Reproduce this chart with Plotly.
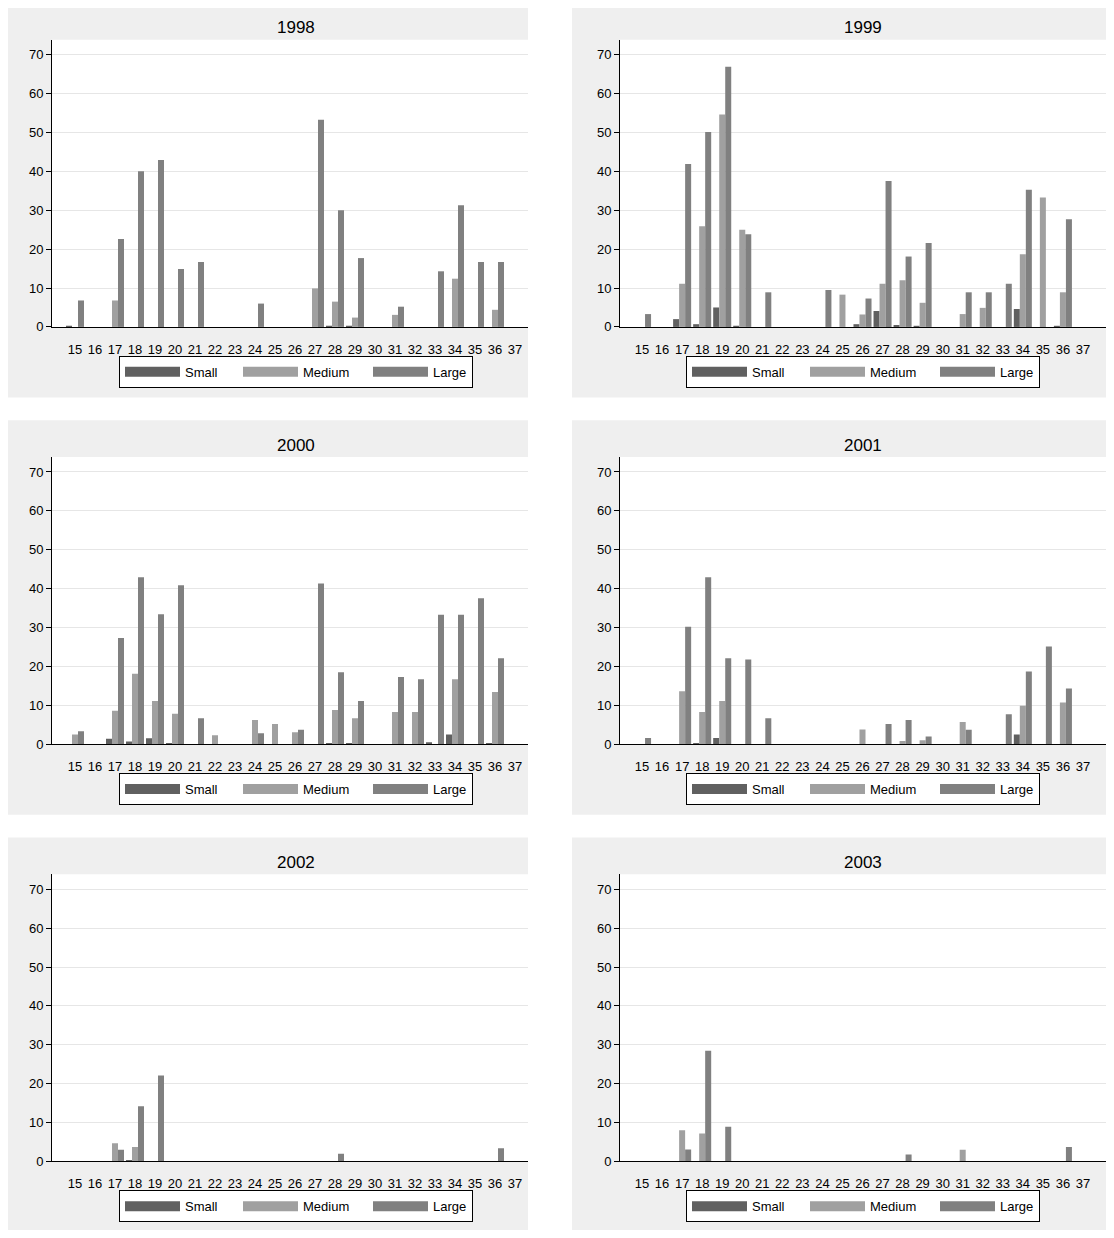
import plotly.graph_objects as go

# ---------------- data ----------------
categories = list(range(15, 38))  # 15 .. 37
years = ["1998", "1999", "2000", "2001", "2002", "2003"]
series_names = ["Small", "Medium", "Large"]

small_1998 = [0.3,0,0,0,0,0,0,0,0,0,0,0,0,0.3,0.3,0,0,0,0,0,0,0,0]
medium_1998 = [0,0,6.8,0,0,0,0,0,0,0,0,0,9.9,6.5,2.4,0,3.1,0,0,12.4,0,4.4,0]
large_1998 = [6.8,0,22.6,40.0,42.9,14.9,16.7,0,0,6.0,0,0,53.3,30.0,17.7,0,5.2,0,14.3,31.3,16.7,16.7,0]

small_1999 = [0,0,2.0,0.7,5.0,0.3,0,0,0,0,0,0.7,4.1,0.5,0.25,0,0,0,0,4.6,0,0.25,0]
medium_1999 = [0,0,11.1,25.9,54.6,25.0,0,0,0,0,8.3,3.2,11.1,12.0,6.2,0,3.3,4.9,0,18.7,33.3,8.9,0]
large_1999 = [3.3,0,41.9,50.1,66.9,23.8,8.9,0,0,9.5,0,7.3,37.5,18.1,21.6,0,8.9,8.9,11.1,35.3,0,27.7,0]

small_2000 = [0,0,1.4,0.7,1.5,0.3,0,0,0,0,0,0,0,0.25,0.25,0,0,0,0.5,2.5,0,0.25,0]
medium_2000 = [2.5,0,8.6,18.1,11.1,7.8,0,2.3,0,6.2,5.2,3.1,0,8.8,6.7,0,8.3,8.3,0,16.7,0,13.4,0]
large_2000 = [3.3,0,27.3,42.9,33.4,40.9,6.7,0,0,2.8,0,3.7,41.3,18.5,11.1,0,17.3,16.7,33.3,33.3,37.5,22.1,0]

small_2001 = [0,0,0,0.3,1.6,0,0,0,0,0,0,0,0,0,0,0,0,0,0,2.5,0,0,0]
medium_2001 = [0,0,13.6,8.3,11.1,0,0,0,0,0,0,3.8,0,0.85,1.0,0,5.7,0,0,9.9,0,10.7,0]
large_2001 = [1.6,0,30.2,42.9,22.1,21.8,6.7,0,0,0,0,0,5.2,6.2,2.0,0,3.7,0,7.7,18.7,25.1,14.3,0]

small_2002 = [0,0,0,0.4,0,0,0,0,0,0,0,0,0,0,0,0,0,0,0,0,0,0,0]
medium_2002 = [0,0,4.7,3.7,0,0,0,0,0,0,0,0,0,0,0,0,0,0,0,0,0,0,0]
large_2002 = [0,0,3.0,14.2,22.1,0,0,0,0,0,0,0,0,2.0,0,0,0,0,0,0,0,3.4,0]

small_2003 = [0,0,0,0,0,0,0,0,0,0,0,0,0,0,0,0,0,0,0,0,0,0,0]
medium_2003 = [0,0,8.0,7.2,0,0,0,0,0,0,0,0,0,0,0,0,3.0,0,0,0,0,0,0]
large_2003 = [0,0,3.1,28.5,8.9,0,0,0,0,0,0,0,0,1.8,0,0,0,0,0,0,0,3.7,0]

y_ticks = [0, 10, 20, 30, 40, 50, 60, 70]

panel_data = {
    "1998": (small_1998, medium_1998, large_1998),
    "1999": (small_1999, medium_1999, large_1999),
    "2000": (small_2000, medium_2000, large_2000),
    "2001": (small_2001, medium_2001, large_2001),
    "2002": (small_2002, medium_2002, large_2002),
    "2003": (small_2003, medium_2003, large_2003),
}

# ---------------- style / layout ----------------
PAGE_MARGIN = 8            # default body margin of the html page
W, H = 1114 - PAGE_MARGIN, 1238 - PAGE_MARGIN
colors = ["#606060", "#a0a0a0", "#808080"]
legend_widths = [48, 60, None]
FONT = "Arial, Liberation Sans, sans-serif"

cols = [
    dict(px0=5, px1=528, x0=52, x1=528, cx=296, xr=[13.85, 37.65]),
    dict(px0=572, px1=1114, x0=620, x1=1107, cx=863, xr=[13.9, 38.2]),
]

def py(v):
    return min(max(1 - (v - PAGE_MARGIN) / H, 0), 1)

def pxx(v):
    return min(max((v - PAGE_MARGIN) / W, 0), 1)

fig = go.Figure()
shapes, annotations = [], []
layout = dict()

for i, yr in enumerate(years):
    r, c = divmod(i, 2)
    col = cols[c]
    off = 420 * r
    n = i + 1
    xa = "x" if n == 1 else f"x{n}"
    ya = "y" if n == 1 else f"y{n}"
    lg = "legend" if n == 1 else f"legend{n}"
    vals = panel_data[yr]
    for name, v, colr in zip(series_names, vals, colors):
        fig.add_trace(go.Bar(x=categories, y=v, name=name, marker=dict(color=colr, line=dict(width=0)),
                             xaxis=xa, yaxis=ya, showlegend=False))
    for name, colr, lw in zip(series_names, colors, legend_widths):
        kw = dict(legendwidth=lw) if lw else {}
        fig.add_trace(go.Scatter(x=[None], y=[None], mode="lines", name=name,
                                 line=dict(color=colr, width=14), xaxis=xa, yaxis=ya,
                                 legend=lg, showlegend=True, hoverinfo="skip", **kw))

    top, bot = 40 + off, 329 + off
    xkey = "xaxis" if n == 1 else f"xaxis{n}"
    ykey = "yaxis" if n == 1 else f"yaxis{n}"
    layout[xkey] = dict(domain=[pxx(col["x0"]), pxx(col["x1"])], range=col["xr"], anchor=ya,
                        tickmode="array", tickvals=categories, ticktext=[str(k) for k in categories],
                        showgrid=False, zeroline=False, showline=True, linecolor="black", linewidth=1,
                        ticks="", ticklabelstandoff=10,
                        tickfont=dict(size=13, color="black", family=FONT), fixedrange=True)
    layout[ykey] = dict(domain=[py(bot), py(top)], range=[0, (329 - 40) / 3.914], anchor=xa,
                        tickmode="array", tickvals=y_ticks, showgrid=True, gridcolor="#e6e6e6", gridwidth=1,
                        zeroline=False, showline=True, linecolor="black", linewidth=1,
                        ticks="outside", ticklen=5, tickcolor="black",
                        tickfont=dict(size=13, color="black", family=FONT), fixedrange=True)
    layout[lg] = dict(orientation="h", x=pxx(col["cx"]), xanchor="center",
                      y=py(358 + off), yanchor="top", bgcolor="white",
                      bordercolor="black", borderwidth=1, itemwidth=55,
                      font=dict(size=13, color="black", family=FONT))
    # panel background + white plot area
    shapes.append(dict(type="rect", xref="paper", yref="paper", layer="below",
                       x0=pxx(col["px0"]), x1=pxx(col["px1"]), y0=py(400 + off), y1=py(3 + off),
                       fillcolor="#efefef", line=dict(width=0)))
    shapes.append(dict(type="rect", xref="paper", yref="paper", layer="below",
                       x0=pxx(col["x0"]), x1=pxx(col["x1"]), y0=py(bot), y1=py(top),
                       fillcolor="white", line=dict(width=0)))
    annotations.append(dict(text=yr, x=pxx(col["cx"]), y=py(28 + off), xref="paper", yref="paper",
                            xanchor="center", yanchor="middle", showarrow=False,
                            font=dict(size=17, color="black", family=FONT)))

fig.update_layout(
    width=W, height=H, margin=dict(l=0, r=0, t=0, b=0),
    paper_bgcolor="white", plot_bgcolor="white",
    barmode="group", bargap=0.1, bargroupgap=0.0,
    shapes=shapes, annotations=annotations,
    font=dict(family=FONT, color="black"),
    **layout,
)

fig.write_html("out.html")
